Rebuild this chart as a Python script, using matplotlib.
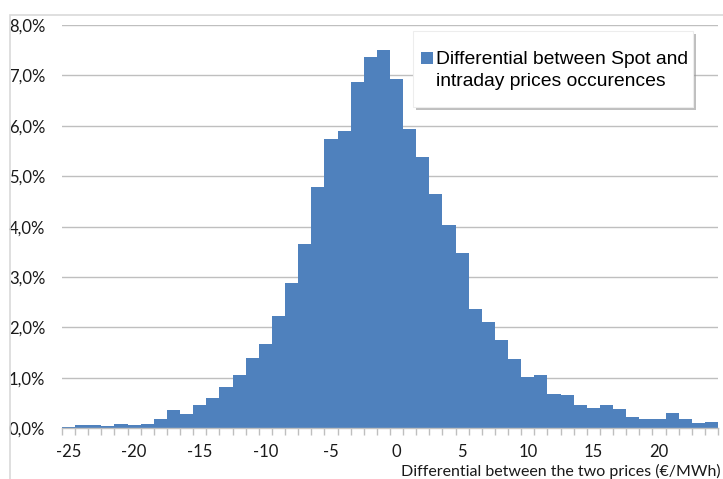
import numpy as np
import matplotlib
matplotlib.use("Agg")
import matplotlib.pyplot as plt
from matplotlib.patches import Rectangle
from matplotlib.ticker import FuncFormatter

# price differential classes (EUR/MWh), one bar per 1 EUR/MWh
diff_classes = list(range(-25, 25))
# share of occurrences in %
occurrences = [
    0.03, 0.07, 0.07, 0.05, 0.09, 0.07, 0.08, 0.18, 0.36, 0.29,
    0.47, 0.60, 0.81, 1.05, 1.39, 1.68, 2.22, 2.88, 3.66, 4.78,
    5.73, 5.90, 6.86, 7.37, 7.51, 6.92, 5.94, 5.38, 4.65, 4.04,
    3.48, 2.36, 2.11, 1.75, 1.38, 1.02, 1.05, 0.68, 0.66, 0.47,
    0.40, 0.47, 0.38, 0.23, 0.19, 0.19, 0.30, 0.18, 0.11, 0.12,
]
x_labels = [-25, -20, -15, -10, -5, 0, 5, 10, 15, 20]
y_ticks = [0, 1, 2, 3, 4, 5, 6, 7, 8]
legend_lines = ["Differential between Spot and", "intraday prices occurences"]

W, H = 723, 479
bar_color = "#4F81BD"
grid_color = "#BFBFBF"
tick_font = "Lato"
plt.rcParams["axes.unicode_minus"] = False


def px(x, y):
    # pixel position (from top-left) -> figure fraction
    return x / W, 1 - y / H


fig = plt.figure(figsize=(W / 100, H / 100), dpi=100)
fig.patch.set_facecolor("white")

# chart area border (the picture is a crop of a bigger frame)
fig.patches.append(Rectangle((10 / W, -0.1), 1.2, (H - 14.7) / H + 0.1,
                             transform=fig.transFigure, fill=False,
                             edgecolor="#D9D9D9", linewidth=1.2))

ax = fig.add_axes([62 / W, 1 - 428.3 / H, (718 - 62) / W, (428.3 - 25) / H])

ax.bar(diff_classes, occurrences, width=1.0, color=bar_color, edgecolor="none", zorder=3)

ax.set_xlim(-25.5, 24.5)
ax.set_ylim(0, 8)

for s in ["top", "right", "left"]:
    ax.spines[s].set_visible(False)
ax.spines["bottom"].set_color(grid_color)
ax.spines["bottom"].set_linewidth(1.0)
ax.spines["bottom"].set_zorder(4)

ax.set_yticks(y_ticks)
ax.yaxis.set_major_formatter(FuncFormatter(lambda v, p: f"{v:.1f}%".replace(".", ",")))
ax.yaxis.grid(True, color=grid_color, linewidth=1.0, zorder=0)
ax.tick_params(axis="y", length=0, pad=12, labelsize=12, labelcolor="#1a1a1a")

ax.set_xticks(x_labels)
ax.set_xticks(np.arange(-25.5, 25, 1), minor=True)
ax.tick_params(axis="x", which="major", length=0, pad=11, labelsize=12,
               labelcolor="#1a1a1a")
ax.tick_params(axis="x", which="minor", length=5, width=1.0, color=grid_color,
               direction="out")

for lab in ax.get_xticklabels() + ax.get_yticklabels():
    lab.set_fontfamily(tick_font)

fig.text(*px(721, 471), "Differential between the two prices (\u20ac/MWh)",
         ha="right", va="center", fontsize=11.5, family=tick_font, color="#1a1a1a")

# legend box with shadow, drawn like the Excel one
bx0, by0, bx1, by1 = 413, 31, 693, 107
fig.patches.append(Rectangle(px(bx0 + 3, by1 + 3), (bx1 - bx0) / W, (by1 - by0) / H,
                             transform=fig.transFigure, facecolor="#8c8c8c",
                             edgecolor="none", alpha=0.55, zorder=5))
fig.patches.append(Rectangle(px(bx0, by1), (bx1 - bx0) / W, (by1 - by0) / H,
                             transform=fig.transFigure, facecolor="white",
                             edgecolor="#EDEDED", linewidth=0.8, zorder=6))
fig.patches.append(Rectangle(px(420.7, 64), 12.6 / W, 12.3 / H,
                             transform=fig.transFigure, facecolor=bar_color,
                             edgecolor="none", zorder=7))
for i, line in enumerate(legend_lines):
    fig.text(*px(436, 64 + 21.7 * i), line, ha="left", va="baseline",
             fontsize=13.9, family="Liberation Sans", color="black", zorder=8)

fig.savefig("out.png", dpi=100, facecolor="white")
